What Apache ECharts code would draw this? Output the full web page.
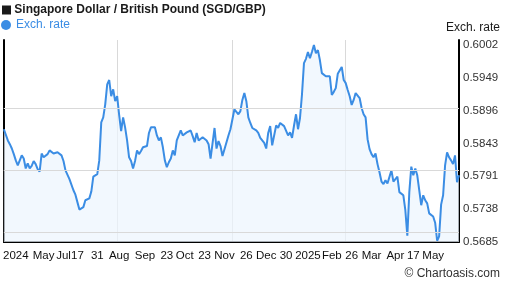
<!DOCTYPE html>
<html>
<head>
<meta charset="utf-8">
<script src="https://cdn.jsdelivr.net/npm/echarts@6/dist/echarts.min.js"></script>
<style>html,body{margin:0;padding:0;background:#fff}#c{width:507px;height:288px}</style>
</head>
<body>
<div id="c"></div>
<script>
var rates = [
0.5866,0.5864,0.5848,0.5842,0.5835,0.5826,0.5816,0.5808,0.5810,0.5824,
0.5819,0.5803,0.5811,0.5803,0.5807,0.5815,0.5810,0.5802,0.5798,0.5827,
0.5821,0.5824,0.5826,0.5832,0.5834,0.5827,0.5824,0.5829,0.5827,0.5824,
0.5815,0.5800,0.5797,0.5786,0.5789,0.5768,0.5761,0.5749,0.5737,0.5734,
0.5741,0.5752,0.5750,0.5755,0.5766,0.5790,0.5789,0.5794,0.5816,0.5877,
0.5885,0.5906,0.5938,0.5945,0.5919,0.5930,0.5911,0.5919,0.5889,0.5863,
0.5885,0.5869,0.5848,0.5821,0.5815,0.5803,0.5815,0.5832,0.5826,0.5831,
0.5837,0.5839,0.5839,0.5860,0.5869,0.5868,0.5869,0.5856,0.5848,0.5853,
0.5837,0.5816,0.5805,0.5813,0.5819,0.5832,0.5824,0.5848,0.5850,0.5864,
0.5856,0.5858,0.5861,0.5863,0.5864,0.5855,0.5845,0.5860,0.5848,0.5850,
0.5853,0.5853,0.5848,0.5842,0.5819,0.5816,0.5868,0.5835,0.5847,0.5839,
0.5823,0.5834,0.5834,0.5856,0.5866,0.5869,0.5898,0.5895,0.5890,0.5895,
0.5913,0.5924,0.5911,0.5885,0.5876,0.5868,0.5871,0.5864,0.5860,0.5852,
0.5853,0.5844,0.5835,0.5860,0.5871,0.5840,0.5837,0.5872,0.5868,0.5876,
0.5874,0.5871,0.5868,0.5856,0.5861,0.5852,0.5872,0.5890,0.5866,0.5884,
0.5922,0.5972,0.5979,0.5990,0.5980,0.5990,0.6001,0.5988,0.5993,0.5977,
0.5956,0.5953,0.5951,0.5951,0.5951,0.5921,0.5926,0.5932,0.5955,0.5958,
0.5966,0.5945,0.5940,0.5929,0.5919,0.5905,0.5913,0.5924,0.5927,0.5916,
0.5900,0.5890,0.5885,0.5850,0.5834,0.5826,0.5821,0.5827,0.5810,0.5797,
0.5782,0.5778,0.5784,0.5779,0.5779,0.5800,0.5782,0.5784,0.5790,0.5765,
0.5763,0.5760,0.5736,0.5695,0.5765,0.5806,0.5792,0.5803,0.5792,0.5789,
0.5744,0.5760,0.5752,0.5747,0.5731,0.5733,0.5726,0.5716,0.5687,0.5694,
0.5745,0.5760,0.5808,0.5829,0.5821,0.5816,0.5810,0.5824,0.5781,0.5792
];
var categories = rates.map(function (_, i) { return i; });
var xTickLabels = ['2024','May','Jul','17','31','Aug','Sep','23','Oct','23','Nov','26','Dec','30','2025','Feb','26','Mar','Apr','17','May'];
var xTickIdx = [6,20,30,37,47,58,71,82,91,101,111,122,132,142,153,165,175,185,197,206,216];
var xGridIdx = [57,115,172];
var yTicks = [0.5685,0.5738,0.5791,0.5843,0.5896,0.5949,0.6002];
var yMin = 0.5685, yMax = 0.60092;

var FONT = '"Liberation Sans", Arial, sans-serif';
var chart = echarts.init(document.getElementById('c'), null, {renderer: 'canvas'});
chart.setOption({
  animation: false,
  backgroundColor: '#fff',
  textStyle: {fontFamily: FONT},
  title: [
    {text: '{sq|}{t| Singapore Dollar / British Pound (SGD/GBP)}', left: 2, top: 4, padding: 0,
     textStyle: {rich: {
       sq: {width: 9, height: 9, backgroundColor: '#1a1a1a'},
       t: {fontSize: 12, fontWeight: 'bold', color: '#1a1a1a', fontFamily: FONT}
     }}},
    {text: 'Exch. rate', right: 7, top: 22, padding: 0,
     textStyle: {fontSize: 12, fontWeight: 'normal', color: '#1a1a1a', fontFamily: FONT}},
    {text: '\u00a9 Chartoasis.com', right: 7, top: 268, padding: 0,
     textStyle: {fontSize: 12, fontWeight: 'normal', color: '#333', fontFamily: FONT}}
  ],
  legend: {
    left: 1, top: 19, padding: 0, icon: 'circle', itemWidth: 10, itemHeight: 10,
    textStyle: {color: '#3b8de4', fontSize: 12, fontFamily: FONT},
    data: ['Exch. rate']
  },
  grid: {left: 1, right: 48, top: 40, bottom: 46, containLabel: false},
  xAxis: {
    type: 'category', data: categories, boundaryGap: false,
    axisLine: {show: true, lineStyle: {color: '#000', width: 2}},
    axisTick: {show: false},
    axisLabel: {
      margin: 8, color: '#111', fontSize: 11.5, fontFamily: FONT, hideOverlap: false,
      interval: function (i) { return xTickIdx.indexOf(i) >= 0; },
      formatter: function (v, i) { var k = xTickIdx.indexOf(i); return k >= 0 ? xTickLabels[k] : ''; }
    },
    splitLine: {show: true, interval: function (i) { return xGridIdx.indexOf(i) >= 0; },
      lineStyle: {color: '#d9d9d9', width: 1}}
  },
  yAxis: [
    {type: 'value', position: 'right', min: yMin, max: yMax, scale: true,
     axisLine: {show: true, onZero: false, lineStyle: {color: '#000', width: 2}},
     axisTick: {show: false},
     axisLabel: {customValues: yTicks, margin: 4, color: '#333', fontSize: 11.5, fontFamily: FONT,
       formatter: function (v) { return v.toFixed(4); }},
     splitLine: {show: false}},
    {type: 'value', position: 'left', min: yMin, max: yMax, scale: true,
     axisLine: {show: true, onZero: false, lineStyle: {color: '#000', width: 2}},
     axisTick: {show: false}, axisLabel: {show: false}, splitLine: {show: false}}
  ],
  series: [{
    name: 'Exch. rate', type: 'line', data: rates, yAxisIndex: 0,
    showSymbol: false, symbol: 'circle', smooth: false,
    itemStyle: {color: '#3b8de4'},
    lineStyle: {color: '#3b8de4', width: 2},
    areaStyle: {color: '#ecf5fe', origin: 'start'},
    markLine: {
      silent: true, symbol: ['none', 'none'], label: {show: false},
      lineStyle: {color: '#d9d9d9', width: 1, type: 'solid'},
      emphasis: {disabled: true},
      data: yTicks.slice(1, -1).map(function (v) { return {yAxis: v}; })
    }
  }]
});
</script>
</body>
</html>
